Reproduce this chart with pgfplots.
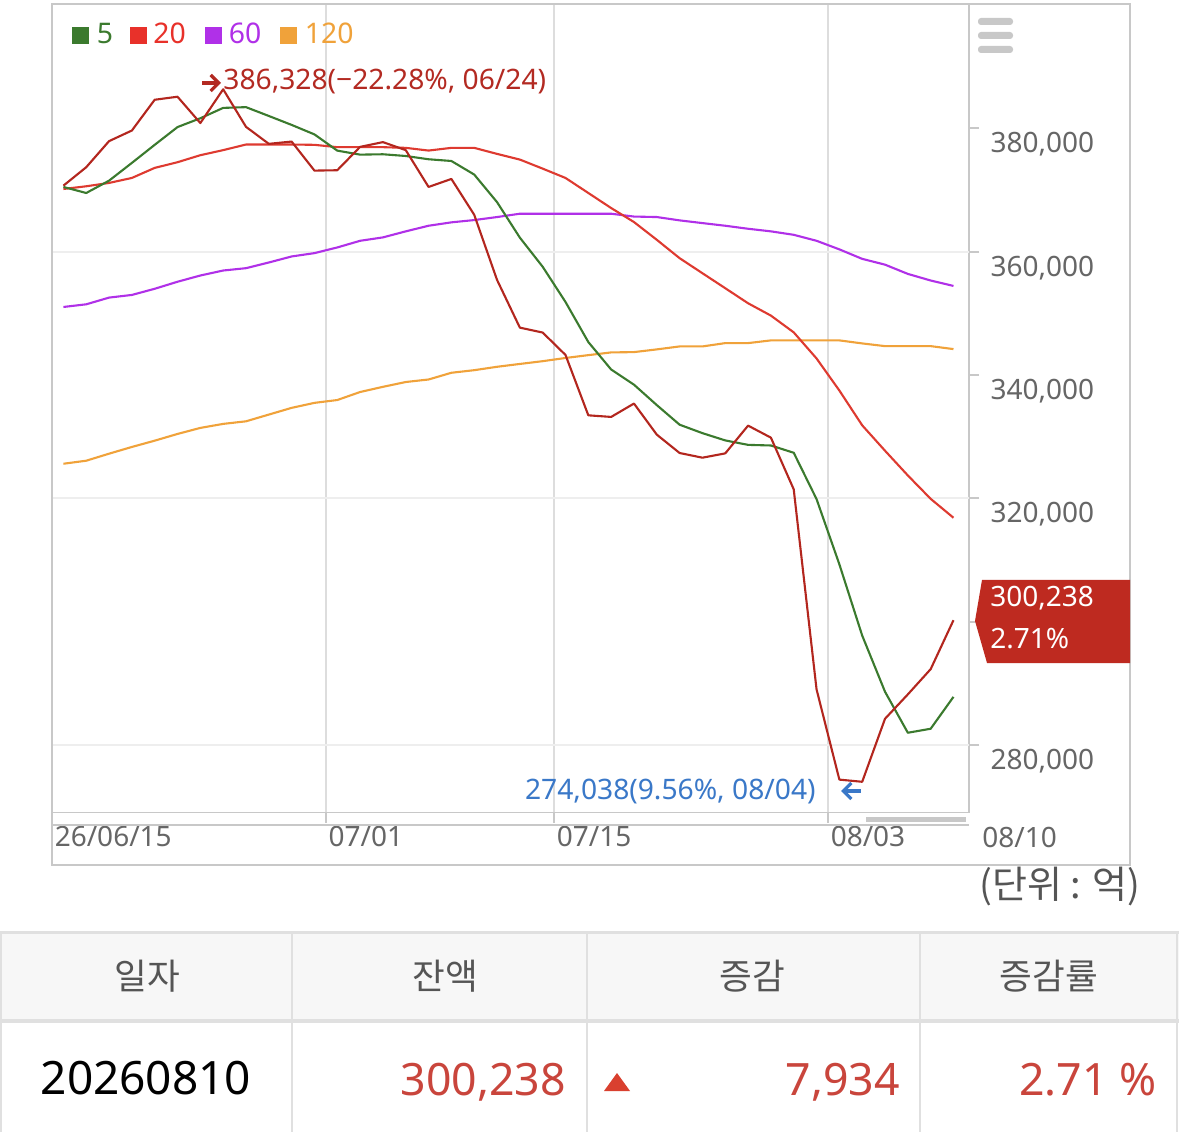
\documentclass[border=0pt]{standalone}
\usepackage{fontspec}
\setmainfont{Noto Sans}
\newfontfamily\kr{Noto Sans CJK KR}
\usepackage{pgfplots}
\pgfplotsset{compat=1.18}
\usetikzlibrary{arrows.meta}
\definecolor{cDaily}{HTML}{B3261E}
\definecolor{cGreen}{HTML}{3B7A2E}
\definecolor{cRed}{HTML}{DE3A30}
\definecolor{cRedSq}{HTML}{E8312A}
\definecolor{cPurple}{HTML}{B030E8}
\definecolor{cOrange}{HTML}{F0A23A}
\definecolor{cAxis}{HTML}{C8C8C8}
\definecolor{cGridV}{HTML}{DDDDDD}
\definecolor{cGridH}{HTML}{EEEEEE}
\definecolor{cTick}{HTML}{666666}
\definecolor{cBox}{HTML}{BE2A20}
\definecolor{cBlue}{HTML}{3A78C8}
\definecolor{cAnnR}{HTML}{B32A22}
\definecolor{cHead}{HTML}{F7F7F7}
\definecolor{cTab}{HTML}{E0E0E0}
\definecolor{cHeadTxt}{HTML}{555555}
\definecolor{cNum}{HTML}{C9453C}
\definecolor{cTri}{HTML}{D9402F}
\begin{document}
\begin{tikzpicture}
\useasboundingbox (0,0) rectangle (589.5pt,566pt);
\fill[white] (0,0) rectangle (589.5pt,566pt);
\begin{scope}[x=0.5pt,y=-0.5pt,shift={(0pt,566pt)}]
  \fill[cHead] (0,932) rectangle (1179,1021);
\end{scope}
\begin{axis}[
  at={(26pt,159.75pt)}, anchor=south west, scale only axis,
  width=458.5pt, height=404.25pt,
  xmin=-0.5, xmax=39.68, ymin=269058, ymax=400155,
  scaled y ticks=false, scaled x ticks=false,
  axis line style={draw=cAxis, line width=0.9pt},
  xtick={-0.5,11.5,21.5,33.5},
  xticklabels={26/06/15,07/01,07/15,08/03},
  ytick={280000,300000,320000,340000,360000,380000},
  yticklabels={{280,000},{},{320,000},{340,000},{360,000},{380,000}},
  xtick pos=lower, ytick pos=right, tick align=outside,
  major tick length=5pt,
  tick style={draw=cAxis, line width=0.9pt},
  xmajorgrids,
  x grid style={draw=cGridV, line width=1pt},
  y grid style={draw=cGridH, line width=1pt},
  extra y ticks={280000,320000,360000},
  extra y tick labels={},
  extra y tick style={ymajorgrids=true},
  yticklabel style={font=\fontsize{14}{14}\selectfont, text=cTick, anchor=base west, inner sep=0pt, xshift=5.6pt, yshift=-12.3pt},
  xticklabel style={font=\fontsize{14}{14}\selectfont, text=cTick, anchor=base west, inner sep=0pt, xshift=1.2pt, yshift=-11.9pt},
  every axis plot/.append style={line width=1.05pt, line join=round, no marks},
]
\addplot[cOrange] coordinates {(0,325610)(1,326100)(2,327240)(3,328330)(4,329350)(5,330440)(6,331420)(7,332070)(8,332490)(9,333580)(10,334670)(11,335480)(12,335940)(13,337240)(14,338080)(15,338860)(16,339270)(17,340360)(18,340780)(19,341330)(20,341790)(21,342240)(22,342760)(23,343220)(24,343660)(25,343710)(26,344150)(27,344630)(28,344630)(29,345170)(30,345170)(31,345610)(32,345610)(33,345610)(34,345610)(35,345120)(36,344680)(37,344680)(38,344680)(39,344200)};
\addplot[cPurple] coordinates {(0,351030)(1,351460)(2,352550)(3,352980)(4,353980)(5,355120)(6,356130)(7,356940)(8,357320)(9,358240)(10,359220)(11,359760)(12,360680)(13,361760)(14,362310)(15,363290)(16,364200)(17,364750)(18,365120)(19,365610)(20,366150)(21,366150)(22,366150)(23,366150)(24,366150)(25,365690)(26,365610)(27,365070)(28,364630)(29,364200)(30,363710)(31,363290)(32,362730)(33,361760)(34,360370)(35,358830)(36,357890)(37,356390)(38,355320)(39,354440)};
\addplot[cRed] coordinates {(0,370160)(1,370600)(2,371140)(3,371950)(4,373580)(5,374500)(6,375640)(7,376460)(8,377370)(9,377370)(10,377370)(11,377320)(12,376940)(13,376940)(14,376940)(15,376830)(16,376390)(17,376830)(18,376830)(19,375850)(20,374930)(21,373460)(22,371950)(23,369510)(24,367070)(25,364800)(26,361920)(27,358940)(28,356500)(29,354070)(30,351630)(31,349630)(32,346910)(33,342680)(34,337480)(35,331840)(36,327720)(37,323710)(38,319920)(39,316850)};
\addplot[cGreen] coordinates {(0,370490)(1,369510)(2,371510)(3,374390)(4,377320)(5,380200)(6,381630)(7,383310)(8,383430)(9,382000)(10,380550)(11,379010)(12,376380)(13,375730)(14,375790)(15,375510)(16,374980)(17,374700)(18,372500)(19,368030)(20,362270)(21,357550)(22,351840)(23,345340)(24,340890)(25,338430)(26,335120)(27,331940)(28,330570)(29,329390)(30,328670)(31,328570)(32,327390)(33,319880)(34,309300)(35,297750)(36,288640)(37,281990)(38,282640)(39,287810)};
\addplot[cDaily] coordinates {(0,370700)(1,373690)(2,377920)(3,379640)(4,384630)(5,385120)(6,380850)(7,386328)(8,380240)(9,377480)(10,377850)(11,373140)(12,373200)(13,376990)(14,377760)(15,376460)(16,370490)(17,371790)(18,365980)(19,355420)(20,347680)(21,346880)(22,343250)(23,333460)(24,333200)(25,335370)(26,330330)(27,327350)(28,326590)(29,327290)(30,331790)(31,329840)(32,321460)(33,289030)(34,274390)(35,274038)(36,284260)(37,288210)(38,292304)(39,300238)};
\end{axis}
\begin{scope}[x=0.5pt,y=-0.5pt,shift={(0pt,566pt)}]
  % frame
  \draw[cAxis, line width=0.9pt] (52,4) rectangle (1130,865);
  \draw[cAxis, line width=0.9pt] (52,825) -- (969,825);
  \fill[cAxis] (866,816.5) rectangle (966,822);
  % hamburger
  \foreach \yy in {18,32,46} \fill[cAxis, rounded corners=1.5pt] (978,\yy) rectangle (1013,\yy+7);
  % legend
  \fill[cGreen] (72,27) rectangle (89,44);
  \node[anchor=base west, inner sep=0pt, font=\fontsize{14.2}{14.2}\selectfont, text=cGreen] at (96.5,44) {5};
  \fill[cRedSq] (130,27) rectangle (147,44);
  \node[anchor=base west, inner sep=0pt, font=\fontsize{14.2}{14.2}\selectfont, text=cRedSq] at (153,44) {20};
  \fill[cPurple] (204.5,27) rectangle (221.5,44);
  \node[anchor=base west, inner sep=0pt, font=\fontsize{14.2}{14.2}\selectfont, text=cPurple] at (228.5,44) {60};
  \fill[cOrange] (279.5,27) rectangle (296.5,44);
  \node[anchor=base west, inner sep=0pt, font=\fontsize{14.2}{14.2}\selectfont, text=cOrange] at (304.5,44) {120};
  % max annotation
  \draw[cAnnR, line width=1.6pt, -{Straight Barb[length=4pt,width=8pt]}] (202,83) -- (221,83);
  \node[anchor=base west, inner sep=0pt, font=\fontsize{14.1}{14.1}\selectfont, text=cAnnR] at (223,90) {386,328(−22.28\%, 06/24)};
  % min annotation
  \node[anchor=base east, inner sep=0pt, font=\fontsize{14.1}{14.1}\selectfont, text=cBlue] at (816,799) {274,038(9.56\%, 08/04)};
  \draw[cBlue, line width=1.6pt, {Straight Barb[length=4pt,width=8pt]}-] (841,791) -- (861,791);
  % price box
  \fill[cBox] (975,621) -- (982,580) -- (1130,580) -- (1130,663) -- (987,663) -- cycle;
  \node[anchor=base west, inner sep=0pt, font=\fontsize{14}{14}\selectfont, text=white] at (990,607) {300,238};
  \node[anchor=base west, inner sep=0pt, font=\fontsize{14}{14}\selectfont, text=white] at (990,648) {2.71\%};
  % x label outside range
  \node[anchor=base west, inner sep=0pt, font=\fontsize{14}{14}\selectfont, text=cTick] at (982,847) {08/10};
  % unit
  \node[anchor=center, inner sep=0pt, font=\kr\fontsize{19}{19}\selectfont, text=cHeadTxt] at (1060,887) {(단위 : 억)};
  % table
  \draw[cTab, line width=1.5pt] (0,932) -- (1179,932);
  \draw[cTab, line width=1.8pt] (0,1021) -- (1179,1021);
  \foreach \xx in {1,292,587,920,1177} \draw[cTab, line width=1.2pt] (\xx,932) -- (\xx,1132);
  \foreach \xx/\tt in {147/일자,445/잔액,752/증감,1049/증감률}
    \node[anchor=center, inner sep=0pt, font=\kr\fontsize{17.8}{17.8}\selectfont, text=cHeadTxt] at (\xx,976) {\tt};
  \node[anchor=base, inner sep=0pt, font=\fontsize{23}{23}\selectfont, text=black] at (146,1094) {20260810};
  \node[anchor=base east, inner sep=0pt, font=\fontsize{22.3}{22.3}\selectfont, text=cNum] at (566,1095) {300,238};
  \fill[cTri] (604,1091) -- (630,1091) -- (617,1073) -- cycle;
  \node[anchor=base east, inner sep=0pt, font=\fontsize{22.3}{22.3}\selectfont, text=cNum] at (900,1095) {7,934};
  \node[anchor=base east, inner sep=0pt, font=\fontsize{22.3}{22.3}\selectfont, text=cNum] at (1157,1095) {2.71 \%};
\end{scope}
\end{tikzpicture}
\end{document}
